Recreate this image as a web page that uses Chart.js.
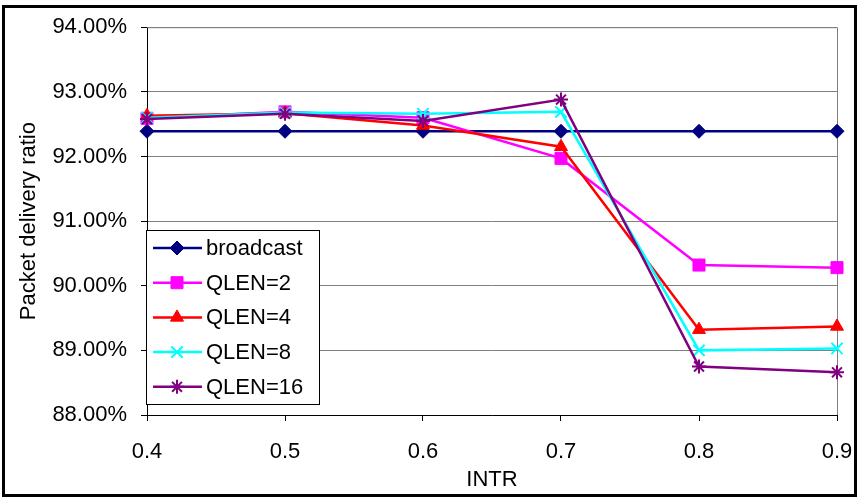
<!DOCTYPE html>
<html lang="en">
<head>
  <meta charset="UTF-8">
  <title>Packet delivery ratio</title>
  <style>
    html, body { margin: 0; padding: 0; background: #fff; }
    canvas { display: block; }
  </style>
</head>
<body>
  <canvas id="myChart" width="858" height="498"></canvas>
<script src="https://cdn.jsdelivr.net/npm/chart.js@4.4.0/dist/chart.umd.min.js"></script>
<script>
const intr = [0.4, 0.5, 0.6, 0.7, 0.8, 0.9];
const broadcast = [92.39, 92.39, 92.39, 92.39, 92.39, 92.39];
const qlen2 = [92.59, 92.69, 92.60, 91.97, 90.32, 90.28];
const qlen4 = [92.63, 92.67, 92.48, 92.15, 89.32, 89.37];
const qlen8 = [92.60, 92.68, 92.66, 92.69, 89.00, 89.03];
const qlen16 = [92.58, 92.66, 92.55, 92.88, 88.75, 88.66];

const seriesNames = ['broadcast', 'QLEN=2', 'QLEN=4', 'QLEN=8', 'QLEN=16'];
const seriesValues = [broadcast, qlen2, qlen4, qlen8, qlen16];
const colors = ['#000080', '#FF00FF', '#FF0000', '#00FFFF', '#800080'];
const markers = ['rectRot', 'rect', 'triangle', 'crossRot', 'star'];
const radii = [7, 8.5, 7.5, 8, 7];

Chart.defaults.font.family = '"Liberation Sans", Arial, sans-serif';
Chart.defaults.font.size = 22;
Chart.defaults.color = '#000';

const datasets = seriesNames.map((name, i) => ({
  label: name,
  data: intr.map((x, j) => ({ x: x, y: seriesValues[i][j] })),
  borderColor: colors[i],
  backgroundColor: colors[i],
  borderWidth: 2.5,
  pointStyle: markers[i],
  pointRadius: radii[i],
  pointBorderWidth: (markers[i] === 'crossRot' || markers[i] === 'star') ? 2 : 1,
  pointBorderColor: colors[i],
  pointBackgroundColor: colors[i],
  tension: 0,
  clip: false,
  order: seriesNames.length - i
}));

// frame, plot border and in-plot legend
const decorations = {
  id: 'decorations',
  beforeDatasetsDraw(chart) {
    const { ctx, chartArea: a } = chart;
    ctx.save();
    ctx.strokeStyle = '#808080';
    ctx.lineWidth = 1;
    ctx.beginPath();
    ctx.moveTo(a.left, a.top + 0.5);
    ctx.lineTo(a.right + 0.5, a.top + 0.5);
    ctx.lineTo(a.right + 0.5, a.bottom);
    ctx.stroke();
    ctx.restore();
  },
  afterDraw(chart) {
    const { ctx } = chart;
    ctx.save();
    // legend box
    const bx = 146.5, by = 230.5, bw = 173, bh = 174;
    ctx.fillStyle = '#fff';
    ctx.fillRect(bx, by, bw, bh);
    ctx.strokeStyle = '#000';
    ctx.lineWidth = 1;
    ctx.strokeRect(bx, by, bw, bh);
    ctx.font = '22px "Liberation Sans", Arial, sans-serif';
    ctx.textBaseline = 'middle';
    ctx.textAlign = 'left';
    chart.data.datasets.forEach((ds, i) => {
      const y = 248 + i * 34.7;
      ctx.strokeStyle = ds.borderColor;
      ctx.lineWidth = 2.5;
      ctx.beginPath();
      ctx.moveTo(153, y);
      ctx.lineTo(202, y);
      ctx.stroke();
      ctx.fillStyle = ds.pointBackgroundColor;
      ctx.strokeStyle = ds.pointBorderColor;
      ctx.lineWidth = ds.pointBorderWidth;
      Chart.helpers.drawPoint(ctx, {
        pointStyle: ds.pointStyle,
        radius: ds.pointRadius,
        rotation: 0,
        borderWidth: ds.pointBorderWidth
      }, 177, y);
      ctx.fillStyle = '#000';
      ctx.fillText(ds.label, 206, y + 1);
    });
    // outer frame
    ctx.strokeStyle = '#000';
    ctx.lineWidth = 3;
    ctx.strokeRect(3.5, 6.5, 852, 489);
    ctx.restore();
  }
};

const ctx = document.getElementById('myChart').getContext('2d');
const chart = new Chart(ctx, {
  type: 'line',
  data: { datasets },
  options: {
    responsive: false,
    animation: false,
    layout: { padding: { top: 25, right: 21, left: 0, bottom: 0 } },
    plugins: {
      legend: { display: false },
      tooltip: { enabled: false }
    },
    scales: {
      x: {
        type: 'linear',
        min: 0.4,
        max: 0.9,
        afterFit(scale) {
          scale.height = 83;
          scale.paddingLeft = 0;
          scale.paddingRight = 0;
        },
        ticks: {
          stepSize: 0.1,
          padding: 18,
          maxRotation: 0,
          callback: v => v.toFixed(1)
        },
        grid: { drawOnChartArea: false, tickLength: 6, color: '#000' },
        border: { color: '#000', width: 1 },
        title: { display: true, text: 'INTR', padding: { top: 0, bottom: 5 } }
      },
      y: {
        min: 88,
        max: 94,
        afterFit(scale) { scale.width = 147; },
        ticks: {
          stepSize: 1,
          padding: 14,
          callback: v => v.toFixed(2) + '%'
        },
        grid: { color: '#808080', tickColor: '#000', tickLength: 6 },
        border: { color: '#000', width: 1 },
        title: { display: true, text: 'Packet delivery ratio', padding: { top: 16, bottom: 0 } }
      }
    }
  },
  plugins: [decorations]
});
</script>
</body>
</html>
